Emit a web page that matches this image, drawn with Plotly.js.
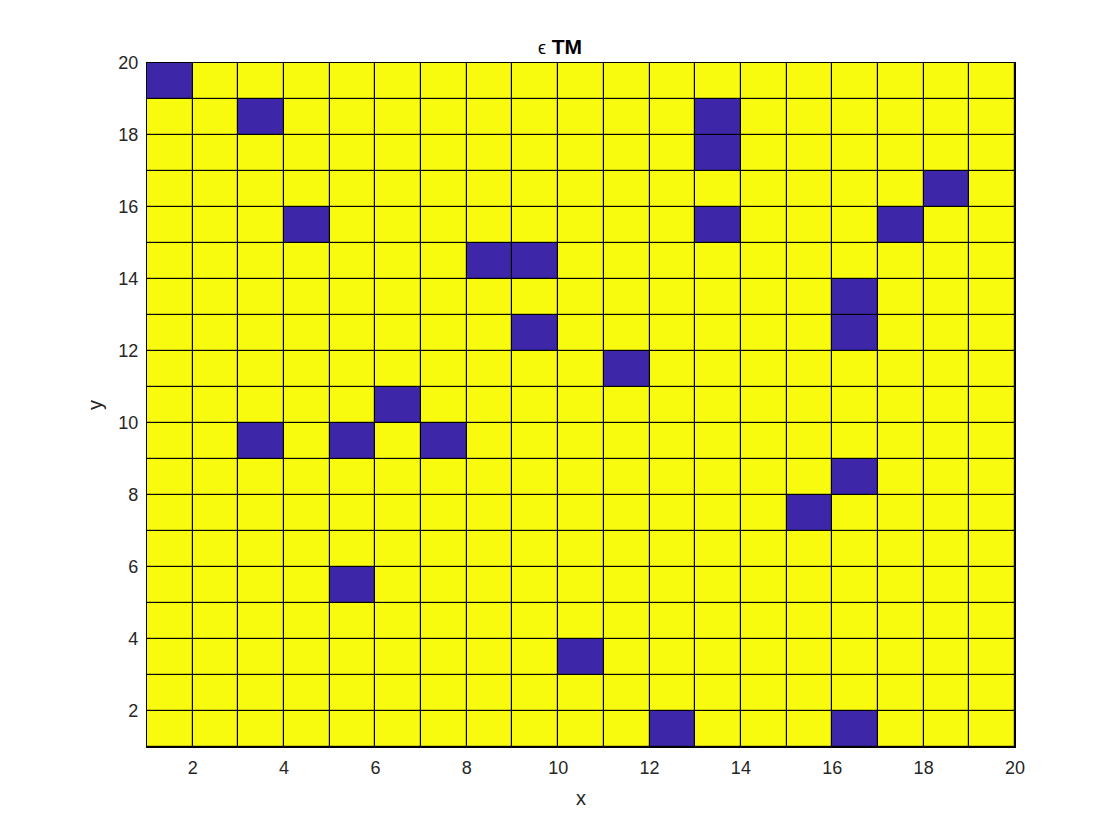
<!DOCTYPE html>
<html>
<head>
<meta charset="utf-8">
<script src="https://cdn.plot.ly/plotly-3.0.1.min.js"></script>
<style>html,body{margin:0;padding:0;background:#fff;}#chart{width:1120px;height:840px;}</style>
</head>
<body>
<div id="chart"></div>
<script>
// Grid edges (MATLAB pcolor grid points)
const xEdges = [1,2,3,4,5,6,7,8,9,10,11,12,13,14,15,16,17,18,19,20];
const yEdges = [1,2,3,4,5,6,7,8,9,10,11,12,13,14,15,16,17,18,19,20];
// Low-value (blue) cells, given by lower-left grid point [x, y]
const blueX = [1, 3, 13, 13, 18, 4, 13, 17, 8, 9, 16, 16, 9, 11, 6, 3, 5, 7, 16, 15, 5, 10, 12, 16];
const blueY = [19, 18, 18, 17, 16, 15, 15, 15, 14, 14, 13, 12, 12, 11, 10, 9, 9, 9, 8, 7, 5, 3, 1, 1];
const lowValue = 0;
const highValue = 1;
const tickValues = [2,4,6,8,10,12,14,16,18,20];

const nx = xEdges.length - 1, ny = yEdges.length - 1;
const z = [];
for (let j = 0; j < ny; j++) {
  const row = [];
  for (let i = 0; i < nx; i++) row.push(highValue);
  z.push(row);
}
for (let k = 0; k < blueX.length; k++) {
  const i = xEdges.indexOf(blueX[k]);
  const j = yEdges.indexOf(blueY[k]);
  z[j][i] = lowValue;
}

const trace = {
  type: 'heatmap',
  x: xEdges,
  y: yEdges,
  z: z,
  xgap: 1.2,
  ygap: 1.2,
  colorscale: [[0, '#3E26A8'], [1, '#F9FB0E']],
  zmin: 0, zmax: 1,
  showscale: false,
  hoverinfo: 'x+y+z'
};

const fontFam = 'Liberation Sans, Arial, sans-serif';
const axisCommon = {
  range: [1, 20],
  tickvals: tickValues,
  ticks: 'inside',
  ticklen: 0,
  showgrid: false,
  zeroline: false,
  showline: true,
  linecolor: '#000000',
  linewidth: 1.2,
  mirror: true,
  tickfont: {family: fontFam, size: 18, color: '#262626'}
};

const layout = {
  width: 1120,
  height: 840,
  margin: {l: 147, r: 105, t: 63, b: 93},
  paper_bgcolor: '#ffffff',
  plot_bgcolor: '#000000',
  title: {
    text: '<span style="font-weight:normal;font-size:18px">ϵ</span> <b>TM</b>',
    font: {family: fontFam, size: 21, color: '#000000'},
    x: 0.5, xanchor: 'center',
    y: 1 - 47/840, yanchor: 'middle'
  },
  xaxis: Object.assign({}, axisCommon, {
    ticklabelstandoff: 4,
    title: {text: 'x', font: {family: fontFam, size: 20, color: '#262626'}, standoff: 14}
  }),
  yaxis: Object.assign({}, axisCommon, {
    ticklabelstandoff: 4,
    title: {text: 'y', font: {family: fontFam, size: 20, color: '#262626'}, standoff: 10}
  })
};

Plotly.newPlot('chart', [trace], layout, {displayModeBar: false, staticPlot: true});
</script>
</body>
</html>
